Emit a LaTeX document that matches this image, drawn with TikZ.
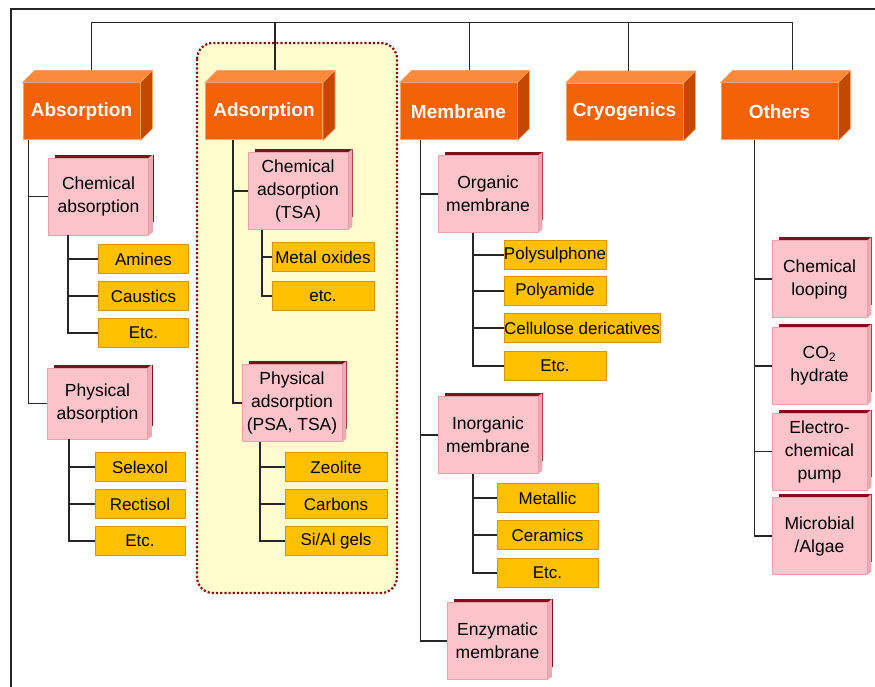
\documentclass[tikz,border=0pt]{standalone}
\usepackage{fontspec}
\setmainfont{Liberation Sans}
\pgfdeclarelayer{grp}
\pgfdeclarelayer{back}
\pgfsetlayers{grp,back,main}
\definecolor{hdrfront}{RGB}{244,98,8}
\definecolor{hdrline}{RGB}{255,160,100}
\definecolor{hdrtop}{RGB}{248,138,58}
\definecolor{hdrside}{RGB}{196,72,0}
\definecolor{pinkfront}{RGB}{250,196,202}
\definecolor{pinkline}{RGB}{232,160,170}
\definecolor{pinkside}{RGB}{236,170,178}
\definecolor{pinkback}{RGB}{130,16,28}
\definecolor{yel}{RGB}{255,192,0}
\definecolor{yelline}{RGB}{214,150,0}
\definecolor{grpfill}{RGB}{255,253,206}
\definecolor{grpline}{RGB}{128,20,20}
\begin{document}
\begin{tikzpicture}[x=1pt,y=-1pt,
  hdr/.style={fill=hdrfront,draw=hdrline,line width=1pt,minimum width=117,minimum height=57,inner sep=0,text=white,font=\fontsize{19}{22}\selectfont\bfseries},
  sub/.style={fill=pinkfront,draw=pinkline,line width=0.6pt,minimum width=100,minimum height=77,inner sep=0,align=center,font=\fontsize{17.5}{23}\selectfont},
  leaf/.style={fill=yel,draw=yelline,line width=0.8pt,minimum width=90,minimum height=29,inner sep=0,font=\fontsize{17}{20}\selectfont},
  link/.style={draw=black!85,line width=1.8pt}]
\useasboundingbox (0,0) rectangle (875,687);
\begin{pgfonlayer}{grp}
\draw[fill=grpfill,draw=grpline,line width=2.2pt,dotted,rounded corners=16] (197,43) rectangle (397,593);
\end{pgfonlayer}
\draw[line width=2pt,black!85] (875,9) -- (11,9) -- (11,687);

\node[hdr] (abs) at (81.5,111.5) {Absorption};
\node[hdr] (ads) at (264,111.5) {Adsorption};
\node[hdr] (mem) at (458.5,111.5) {Membrane};
\node[hdr] (cry) at (624.5,112) {Cryogenics};
\node[hdr] (oth) at (779.5,111.5) {Others};
\foreach \n in {abs,ads,mem,cry,oth}{
  \filldraw[fill=hdrtop,draw=hdrline,line width=0.6pt] (\n.north west) -- ++(12,-12) -- ([shift={(12,-12)}]\n.north east) -- (\n.north east) -- cycle;
  \filldraw[fill=hdrside,draw=hdrline,line width=0.6pt] (\n.north east) -- ++(12,-12) -- ([shift={(12,-12)}]\n.south east) -- (\n.south east) -- cycle;
}

\node[sub] (cabs) at (98.5,196.5) {Chemical\\absorption};
\node[sub,minimum height=71] (pabs) at (97.5,403.5) {Physical\\absorption};
\node[sub] (cads) at (298,191) {Chemical\\adsorption\\(TSA)};
\node[sub] (pads) at (292,403) {Physical\\adsorption\\(PSA, TSA)};
\node[sub] (orgm) at (488,194) {Organic\\membrane};
\node[sub] (inom) at (488,435) {Inorganic\\membrane};
\node[sub] (enzm) at (497.5,641) {Enzymatic\\membrane};
\node[sub,minimum width=95] (cloop) at (819.5,279) {Chemical\\looping};
\node[sub,minimum width=95] (hyd) at (819.5,366) {CO\textsubscript{2}\\hydrate};
\node[sub,minimum width=95] (pump) at (819.5,451.5) {Electro-\\chemical\\pump};
\node[sub,minimum width=95] (alg) at (819.5,536) {Microbial\\/Algae};
\begin{pgfonlayer}{back}
\foreach \n in {cabs,pabs,cads,pads,orgm,inom,enzm,cloop,hyd,pump,alg}{
  \fill[pinkback] ([shift={(7,-3)}]\n.north west) rectangle ([shift={(5,-13)}]\n.south east);
  \fill[pinkside] (\n.north east) -- ++(4,-3) -- ([shift={(4,-3)}]\n.south east) -- (\n.south east) -- cycle;
}
\end{pgfonlayer}

\node[leaf] (amin) at (143.5,259) {Amines};
\node[leaf] (caus) at (143.5,296) {Caustics};
\node[leaf] (etca) at (143.5,333) {Etc.};
\node[leaf] (sel) at (140,467) {Selexol};
\node[leaf] (rect) at (140,504) {Rectisol};
\node[leaf] (etcb) at (140,541) {Etc.};
\node[leaf,minimum width=102] (meto) at (323,257) {Metal oxides};
\node[leaf,minimum width=102] (etcc) at (323,296) {etc.};
\node[leaf,minimum width=102] (zeo) at (336,467) {Zeolite};
\node[leaf,minimum width=102] (carb) at (336,504) {Carbons};
\node[leaf,minimum width=102] (gel) at (336,541) {Si/Al gels};
\node[leaf,minimum width=102] (psul) at (555,255) {Polysulphone};
\node[leaf,minimum width=102] (pam) at (555,291) {Polyamide};
\node[leaf,minimum width=156] (cell) at (582,328) {Cellulose dericatives};
\node[leaf,minimum width=102] (etcd) at (555,366) {Etc.};
\node[leaf,minimum width=101] (metl) at (547.5,498) {Metallic};
\node[leaf,minimum width=101] (cer) at (547.5,535) {Ceramics};
\node[leaf,minimum width=101] (etce) at (547.5,573) {Etc.};

\draw[link] ([shift={(10,-60)}]abs.north) -- ([shift={(13,-60)}]oth.north);
\foreach \n/\d in {abs/10,ads/11,mem/11,cry/4,oth/13}
  \draw[link] ([shift={(\d,-12)}]\n.north) -- ++(0,-48);
\foreach \p/\d/\c in {abs/6/cabs,abs/6/pabs,ads/28/cads,ads/28/pads,mem/21/orgm,mem/21/inom,mem/21/enzm,
    oth/34/cloop,oth/34/hyd,oth/34/pump,oth/34/alg}
  \draw[link] ([xshift=\d]\p.south west) |- (\c.west);
\foreach \p/\d/\c in {cabs/20/amin,cabs/20/caus,cabs/20/etca,pabs/22/sel,pabs/22/rect,pabs/22/etcb,
    cads/14/meto,cads/14/etcc,pads/18/zeo,pads/18/carb,pads/18/gel,
    orgm/35/psul,orgm/35/pam,orgm/35/cell,orgm/35/etcd,inom/35/metl,inom/35/cer,inom/35/etce}
  \draw[link] ([xshift=\d]\p.south west) |- (\c.west);
\end{tikzpicture}
\end{document}
